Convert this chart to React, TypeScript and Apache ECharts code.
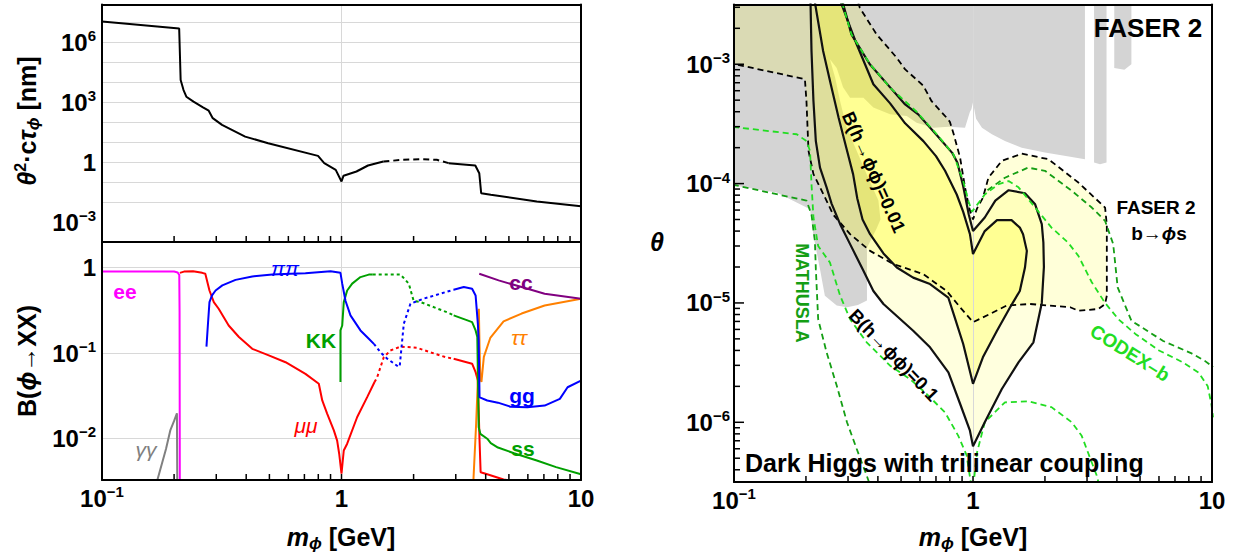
import React, { useEffect, useRef } from "react";
import * as echarts from "echarts";

type P = [number, number];

// ================= Panel A: lifetime θ²·cτ [nm] =================
const lifetimeSolidLow: P[] = [
  [0.1, 1.1e7], [0.21, 5.0e6], [0.213, 1.3e4], [0.219, 4.1e3], [0.225, 1.9e3],
  [0.241, 1.07e3], [0.264, 5.6e2], [0.279, 3.8e2], [0.29, 1.6e2], [0.317, 74],
  [0.396, 19], [0.494, 8.9], [0.798, 2.07], [0.847, 0.9], [0.946, 0.41],
  [1.0, 0.108], [1.02, 0.21], [1.155, 0.34], [1.29, 0.68], [1.495, 1.08],
];
const lifetimeDashed: P[] = [[1.495, 1.08], [1.8, 1.31], [2.16, 1.41], [2.5, 1.31], [2.8, 0.89]];
const lifetimeSolidHigh: P[] = [
  [2.8, 0.89], [3.62, 0.68], [3.76, 0.28], [3.83, 0.028], [4.2, 0.023], [6.54, 0.0108], [10, 0.0061],
];

// ================= Panel B: branching ratios =================
const brEE: P[] = [[0.1, 0.905], [0.2, 0.9], [0.207, 0.88], [0.2102, 0.82], [0.2108, 0.3], [0.2113, 0.003]];
const brGammaGamma: P[] = [[0.1695, 0.0031], [0.185, 0.0075], [0.193, 0.0125], [0.2, 0.016], [0.2055, 0.0197], [0.2062, 0.003]];
const brMuMuSolidA: P[] = [
  [0.2114, 0.87], [0.22, 0.9], [0.24, 0.91], [0.262, 0.87], [0.27, 0.85], [0.281, 0.54], [0.293, 0.395],
  [0.307, 0.33], [0.338, 0.21], [0.373, 0.154], [0.424, 0.112], [0.497, 0.094], [0.584, 0.078],
  [0.707, 0.057], [0.804, 0.0436], [0.831, 0.0278], [0.871, 0.0195], [0.929, 0.0124], [0.959, 0.0094],
  [0.978, 0.0066], [1.0, 0.00385], [1.022, 0.0072], [1.056, 0.00865], [1.163, 0.0178], [1.28, 0.0304],
  [1.374, 0.0457],
];
const brMuMuDotted: P[] = [
  [1.374, 0.0457], [1.409, 0.052], [1.502, 0.0895], [1.6, 0.107], [1.763, 0.119], [2.07, 0.115],
  [2.35, 0.102], [2.72, 0.0895], [2.94, 0.0857],
];
const brMuMuSolidB: P[] = [
  [2.94, 0.0857], [3.51, 0.075], [3.63, 0.0597], [3.71, 0.0478], [3.77, 0.0095], [3.81, 0.004],
  [4.06, 0.0038], [4.75, 0.0033], [5.5, 0.0031],
];
const brPiPiSolid: P[] = [
  [0.273, 0.119], [0.277, 0.22], [0.281, 0.395], [0.288, 0.473], [0.298, 0.54], [0.318, 0.62],
  [0.361, 0.72], [0.424, 0.79], [0.514, 0.83], [0.612, 0.85], [0.707, 0.86], [0.9, 0.91], [0.99, 0.87],
  [1.007, 0.65], [1.039, 0.41], [1.09, 0.276], [1.2, 0.184], [1.3, 0.147], [1.365, 0.128],
];
const brPiPiDotted: P[] = [
  [1.365, 0.128], [1.455, 0.102], [1.55, 0.086], [1.72, 0.0697], [1.75, 0.0697], [1.82, 0.22],
  [1.94, 0.378], [2.2, 0.433], [2.59, 0.496], [2.94, 0.552],
];
const brGluonSolid: P[] = [
  [2.94, 0.552], [3.24, 0.593], [3.51, 0.567], [3.63, 0.473], [3.71, 0.22], [3.74, 0.14], [3.77, 0.0304],
  [3.8, 0.03], [4.06, 0.0278], [4.5, 0.0262], [5.07, 0.0235], [5.97, 0.0231], [7.05, 0.0242],
  [8.16, 0.029], [8.79, 0.0397], [10, 0.0475],
];
const brKKSolid: P[] = [
  [0.99, 0.0456], [0.99, 0.184], [1.007, 0.21], [1.022, 0.395], [1.056, 0.54], [1.108, 0.65],
  [1.2, 0.776], [1.3, 0.83], [1.35, 0.83],
];
const brKKDotted: P[] = [[1.35, 0.83], [1.763, 0.83], [1.91, 0.65], [2.0, 0.41], [2.14, 0.395], [2.76, 0.3], [2.94, 0.276]];
const brStrangeSolid: P[] = [
  [2.94, 0.276], [3.29, 0.246], [3.51, 0.23], [3.63, 0.184], [3.69, 0.154], [3.74, 0.0135], [3.8, 0.0113],
  [4.06, 0.0099], [4.2, 0.0088], [4.5, 0.0078], [5.25, 0.0067], [6.54, 0.0055], [7.87, 0.0046], [10, 0.0038],
];
const brCharm: P[] = [[3.76, 0.85], [4.53, 0.71], [5.65, 0.593], [7.05, 0.496], [10, 0.433]];
const brTauTau: P[] = [
  [3.55, 0.003], [3.65, 0.015], [3.7, 0.04], [3.73, 0.15], [3.745, 0.33], [3.77, 0.12], [3.8, 0.05],
  [3.84, 0.046], [3.93, 0.09], [4.18, 0.15], [4.75, 0.235], [5.65, 0.29], [7.05, 0.36], [10, 0.433],
];

// ================= Panel C: theta vs mass (FASER 2 reach) =================
const grayMain: P[] = [
  [0.09, 3.3e-3], [2.94, 3.3e-3], [2.94, 1.6e-4], [2.59, 1.67e-4], [2.0, 1.82e-4], [1.6, 2.0e-4],
  [1.36, 2.27e-4], [1.2, 2.59e-4], [1.09, 2.94e-4], [1.03, 3.5e-4], [1.01, 4.3e-4], [1.0, 4.8e-4],
  [0.985, 4.2e-4], [0.971, 4.0e-4], [0.926, 2.94e-4], [0.79, 3.0e-4], [0.683, 2.94e-4], [0.581, 3.24e-4],
  [0.528, 3.69e-4], [0.45, 3.81e-4], [0.383, 4.33e-4], [0.348, 5.25e-4], [0.306, 5.25e-4], [0.286, 6.4e-4],
  [0.269, 9.3e-4], [0.252, 1.1e-3], [0.265, 7.7e-4], [0.278, 4.9e-4], [0.296, 2.94e-4], [0.326, 1.88e-4],
  [0.359, 1.2e-4], [0.402, 7.2e-5], [0.41, 5.0e-5], [0.395, 4.2e-5], [0.36, 2.9e-5], [0.36, 1.05e-5],
  [0.33, 9.6e-6], [0.297, 9.2e-6], [0.269, 9.5e-6], [0.24, 1.15e-5], [0.229, 1.92e-5], [0.215, 3.65e-5],
  [0.208, 6.1e-5], [0.151, 8.4e-5], [0.09, 1.0e-4],
];
const grayBarA: P[] = [[3.21, 3.3e-3], [3.62, 3.3e-3], [3.62, 1.5e-4], [3.4, 1.45e-4], [3.21, 1.5e-4]];
const grayBarB: P[] = [[3.9, 3.3e-3], [4.6, 3.3e-3], [4.6, 1.0e-3], [4.3, 9.0e-4], [3.9, 9.3e-4]];

const faserBsContour: P[] = [
  [0.331, 3.3e-3], [0.336, 2.97e-3], [0.395, 1.78e-3], [0.48, 1.13e-3], [0.519, 9.1e-4], [0.62, 6.6e-4],
  [0.671, 4.9e-4], [0.776, 3.56e-4], [0.8, 3.3e-4], [0.83, 2.6e-4], [0.883, 1.65e-4], [0.926, 9.3e-5],
  [0.965, 6.2e-5], [1.0, 5.0e-5], [1.04, 6.2e-5], [1.1, 7.6e-5], [1.16, 1.12e-4], [1.32, 1.55e-4],
  [1.6, 1.78e-4], [2.07, 1.6e-4], [2.76, 1.02e-4], [3.57, 6.3e-5], [3.63, 4.5e-5], [3.63, 1.15e-5],
  [3.57, 9.8e-6], [3.35, 8.9e-6], [2.76, 8.6e-6], [2.55, 9.2e-6], [1.73, 9.8e-6], [1.38, 9.5e-6],
  [1.18, 8.1e-6], [1.0, 6.9e-6], [0.883, 9.2e-6], [0.776, 1.26e-5], [0.62, 1.74e-5], [0.464, 2.12e-5],
  [0.371, 2.73e-5], [0.306, 3.77e-5], [0.26, 5.5e-5], [0.237, 8.1e-5], [0.215, 1.2e-4], [0.205, 1.88e-4],
  [0.201, 4.9e-4], [0.198, 7.5e-4], [0.09, 1.05e-3],
];
const faserBsCorner: P[] = [[0.09, 3.3e-3]];

const contourB01: P[] = [
  [0.209, 3.3e-3], [0.211, 1.29e-3], [0.215, 4.92e-4], [0.22, 2.27e-4], [0.229, 1.36e-4], [0.244, 9.3e-5],
  [0.256, 6.8e-5], [0.278, 4.57e-5], [0.306, 3.11e-5], [0.348, 1.86e-5], [0.383, 1.26e-5], [0.422, 9.8e-6],
  [0.562, 5.85e-6], [0.661, 4.25e-6], [0.789, 2.62e-6], [0.883, 1.43e-6], [0.971, 8.5e-7], [1.0, 6.3e-7],
  [1.12, 1.0e-6], [1.32, 1.9e-6], [1.55, 3.18e-6], [1.79, 4.68e-6], [1.94, 1.0e-5], [1.98, 2.0e-5],
  [1.97, 3.2e-5], [1.94, 4.57e-5], [1.82, 6.7e-5], [1.65, 8.3e-5], [1.41, 8.8e-5], [1.24, 7.2e-5],
  [1.12, 5.2e-5], [1.0, 4.0e-5], [0.96, 5.5e-5], [0.91, 9.5e-5], [0.86, 1.5e-4], [0.82, 1.8e-4],
  [0.7, 2.59e-4], [0.59, 3.8e-4], [0.52, 4.6e-4], [0.45, 6.4e-4], [0.37, 1.0e-3], [0.31, 1.78e-3],
  [0.285, 3.3e-3],
];
const contourB001: P[] = [
  [0.218, 3.3e-3], [0.236, 1.29e-3], [0.254, 6.8e-4], [0.274, 3.56e-4], [0.295, 2.0e-4], [0.315, 1.2e-4],
  [0.328, 7.5e-5], [0.345, 5.0e-5], [0.371, 3.77e-5], [0.422, 2.6e-5], [0.48, 1.98e-5], [0.562, 1.63e-5],
  [0.661, 1.44e-5], [0.788, 1.11e-5], [0.83, 8.07e-6], [0.91, 4.53e-6], [1.0, 2.1e-6], [1.1, 3.5e-6],
  [1.26, 5.85e-6], [1.43, 9.2e-6], [1.57, 1.26e-5], [1.65, 1.98e-5], [1.68, 2.73e-5], [1.62, 3.77e-5],
  [1.57, 4.28e-5], [1.45, 4.94e-5], [1.26, 4.94e-5], [1.12, 4.0e-5], [1.0, 2.57e-5], [0.971, 3.77e-5],
  [0.91, 5.8e-5], [0.855, 8.1e-5], [0.764, 1.28e-4], [0.7, 1.7e-4], [0.62, 2.27e-4], [0.52, 3.2e-4],
  [0.45, 4.7e-4], [0.383, 6.8e-4], [0.326, 1.47e-3], [0.28, 3.3e-3],
];

const greenBrightBand: P[] = [
  [0.283, 3.3e-3], [0.31, 1.78e-3], [0.371, 1.0e-3], [0.45, 6.36e-4], [0.581, 4.0e-4], [0.705, 2.59e-4],
  [0.828, 1.76e-4], [0.91, 1.05e-4], [0.96, 7.0e-5], [0.99, 5.8e-5], [1.12, 8.1e-5], [1.28, 9.9e-5],
  [1.41, 1.05e-4], [1.55, 9.3e-5], [1.82, 6.3e-5], [2.13, 4.28e-5], [2.5, 3.2e-5], [2.76, 2.48e-5],
  [3.14, 1.49e-5], [3.57, 1.0e-5], [4.06, 7.3e-6], [4.78, 5.5e-6], [6.0, 4.0e-6], [7.5, 3.2e-6],
  [8.8, 2.6e-6], [9.6, 2.0e-6], [9.95, 1.4e-6], [10.1, 1.1e-6],
];
const greenBrightLow: P[] = [
  [0.09, 3.05e-4], [0.183, 2.59e-4], [0.201, 2.27e-4], [0.208, 1.88e-4], [0.211, 9.9e-5], [0.215, 5.2e-5],
  [0.225, 3.0e-5], [0.252, 2.18e-5], [0.278, 1.15e-5], [0.306, 7.3e-6], [0.359, 4.68e-6], [0.45, 2.98e-6],
  [0.545, 2.3e-6], [0.63, 1.78e-6], [0.764, 1.21e-6], [0.868, 7.7e-7], [0.94, 5.3e-7], [0.985, 2.9e-7],
  [1.0, 2.8e-7], [1.04, 5.6e-7], [1.12, 1.0e-6], [1.36, 1.47e-6], [1.7, 1.5e-6], [2.13, 1.34e-6],
  [2.59, 1.0e-6], [2.85, 7.7e-7], [3.14, 4.6e-7], [3.29, 3.6e-7], [3.4, 2.8e-7],
];
const greenDarkLeft: P[] = [
  [0.09, 1.02e-4], [0.201, 7.2e-5], [0.211, 5.5e-5], [0.218, 3.3e-5], [0.22, 1.92e-5], [0.225, 7.3e-6],
  [0.244, 3.86e-6], [0.269, 2.03e-6], [0.297, 1.0e-6], [0.326, 6.0e-7], [0.359, 3.58e-7], [0.375, 2.8e-7],
];
const greenDarkRight: P[] = [
  [1.15, 8.8e-5], [1.36, 1.12e-4], [1.7, 1.36e-4], [2.0, 1.28e-4], [2.59, 8.7e-5], [3.14, 6.3e-5],
  [3.57, 4.87e-5], [3.86, 3.11e-5], [4.03, 1.35e-5], [4.6, 7.1e-6], [6.25, 4.8e-6], [8.17, 3.8e-6],
  [9.33, 3.27e-6], [10.1, 2.9e-6],
];

// ================= Axis ticks / labels =================
const massTicks = [0.2, 0.3, 0.4, 0.5, 0.6, 0.7, 0.8, 0.9, 1, 2, 3, 4, 5, 6, 7, 8, 9];
const massLabelValues = [0.1, 1, 10];
const lifetimeLabelValues = [0.001, 1, 1000, 1000000];
const lifetimeGridValues = [0.001, 0.01, 0.1, 1, 10, 100, 1000, 10000, 100000, 1000000, 10000000];
const branchingLabelValues = [0.01, 0.1, 1];
const branchingGridValues = [0.01, 0.1, 1];
const thetaLabelValues = [1e-6, 1e-5, 1e-4, 1e-3];
const thetaMinorTicks = [
  4e-7, 5e-7, 6e-7, 7e-7, 8e-7, 9e-7,
  2e-6, 3e-6, 4e-6, 5e-6, 6e-6, 7e-6, 8e-6, 9e-6,
  2e-5, 3e-5, 4e-5, 5e-5, 6e-5, 7e-5, 8e-5, 9e-5,
  2e-4, 3e-4, 4e-4, 5e-4, 6e-4, 7e-4, 8e-4, 9e-4,
  2e-3, 3e-3,
];
const verticalGridValues = [1];

// axis ranges
const MASS_MIN = 0.1, MASS_MAX = 10;
const LIFE_MIN = 1e-4, LIFE_MAX = 7.9e7;
const BR_MIN = 3.25e-3, BR_MAX = 2.0;
const TH_MIN = 3.16e-7, TH_MAX = 3.16e-3;

// grid geometry (layout)
const GRID_A = { left: 102, top: 4.5, width: 479, height: 237.5 };
const GRID_B = { left: 102, top: 242, width: 479, height: 238 };
const GRID_C = { left: 734, top: 4.6, width: 478, height: 477.4 };

// ================= Styling helpers =================
const FONT = "'Liberation Sans', Arial, Helvetica, sans-serif";
const C_GREEN = "#00A000";
const C_BRIGHT = "#22DD22";
const C_DARKG = "#149E14";

function powLabel(v: number): string {
  const e = Math.round(Math.log10(v));
  if (e === 0) return "{b|1}";
  if (e === 1) return "{b|10}";
  return "{b|10}{s|" + (e < 0 ? "\u2212" + -e : String(e)) + "}";
}
const labelRich = {
  b: { fontSize: 24, fontWeight: "bold", fontFamily: FONT, color: "#000", lineHeight: 28 },
  s: { fontSize: 15, fontWeight: "bold", fontFamily: FONT, color: "#000", lineHeight: 15, verticalAlign: "top" },
};
const frameLine = { show: true, onZero: false, lineStyle: { color: "#000", width: 2 } };

function xAx(grid: number, pos: string, labels?: number[]): any {
  return {
    type: "log", gridIndex: grid, position: pos, min: MASS_MIN, max: MASS_MAX, z: 10,
    axisLine: frameLine,
    axisTick: { show: false },
    axisLabel: labels
      ? { show: true, customValues: labels, formatter: powLabel, rich: labelRich, margin: 4 }
      : { show: false },
    splitLine: { show: false },
  };
}
function yAx(grid: number, pos: string, min: number, max: number, labels?: number[], margin = 6): any {
  return {
    type: "log", gridIndex: grid, position: pos, min, max, z: 10,
    axisLine: frameLine,
    axisTick: { show: false },
    axisLabel: labels
      ? { show: true, customValues: labels, formatter: powLabel, rich: labelRich, margin }
      : { show: false },
    splitLine: { show: false },
  };
}

function lineS(data: any[], xi: number, yi: number, color: string, width = 2, type: any = "solid", z = 5): any {
  return {
    type: "line", xAxisIndex: xi, yAxisIndex: yi, data, showSymbol: false, symbol: "none",
    clip: true, z, silent: true, lineStyle: { color, width, type }, emphasis: { disabled: true },
  };
}
function polyS(points: P[], xi: number, yi: number, fill: string, z: number): any {
  return {
    type: "custom", xAxisIndex: xi, yAxisIndex: yi, data: points, clip: true, z, silent: true,
    renderItem: (params: any, api: any) => {
      if (params.dataIndex !== 0) return null;
      return { type: "polygon", shape: { points: points.map((p) => api.coord(p)) }, style: { fill } };
    },
  };
}
function gridS(xi: number, yi: number, yVals: number[], xVals: number[]): any {
  return {
    type: "line", xAxisIndex: xi, yAxisIndex: yi, data: [], z: 1, silent: true,
    markLine: {
      silent: true, symbol: ["none", "none"], label: { show: false },
      lineStyle: { color: "#D8D8D8", width: 1, type: "solid" },
      data: [...yVals.map((v) => ({ yAxis: v })), ...xVals.map((v) => ({ xAxis: v }))],
    },
  };
}

function tstyle(size: number, fill = "#000", weight = "bold", style = "normal"): any {
  return { fontSize: size, fontWeight: weight, fontStyle: style, fontFamily: FONT, fill };
}
function txt(x: number, y: number, text: string, style: any, rotationDeg = 0, rich?: any, align = "center"): any {
  return {
    type: "text", x, y, rotation: (rotationDeg * Math.PI) / 180, z: 100, silent: true,
    style: { text, align, verticalAlign: "middle", ...style, ...(rich ? { rich } : {}) },
  };
}
const titleRich = {
  n: { ...tstyle(25), lineHeight: 30 },
  i: { ...tstyle(25, "#000", "bold", "italic"), lineHeight: 30 },
  p: { ...tstyle(16), lineHeight: 16, verticalAlign: "top" },
  b: { ...tstyle(17, "#000", "bold", "italic"), lineHeight: 17, verticalAlign: "bottom" },
};

// Axis decoration: inside tick marks on the log frames (pixel position along the frame from the grid layout)
function logPos(v: number, min: number, max: number, start: number, span: number): number {
  return start + ((Math.log10(v) - Math.log10(min)) / (Math.log10(max) - Math.log10(min))) * span;
}
function tickElements(): any[] {
  const out: any[] = [];
  const mk = (x1: number, y1: number, x2: number, y2: number) => ({
    type: "line", z: 95, silent: true,
    shape: { x1, y1, x2, y2 },
    style: { stroke: "#000", lineWidth: 1.5 },
  });
  const bottomTicks = (g: any, len: number) => {
    const yb = g.top + g.height;
    for (const v of massTicks) {
      const x = logPos(v, MASS_MIN, MASS_MAX, g.left, g.width);
      out.push(mk(x, yb, x, yb - len));
    }
  };
  bottomTicks(GRID_A, 6);
  bottomTicks(GRID_B, 6);
  bottomTicks(GRID_C, 6);
  const yb = GRID_C.top + GRID_C.height;
  const leftTicks = (vals: number[], len: number) => {
    for (const v of vals) {
      const y = yb - logPos(v, TH_MIN, TH_MAX, 0, GRID_C.height);
      out.push(mk(GRID_C.left, y, GRID_C.left + len, y));
    }
  };
  leftTicks(thetaLabelValues, 10);
  leftTicks(thetaMinorTicks, 6);
  return out;
}

function textElements(): any[] {
  return [
    txt(27, 121, "{i|θ}{p|2}{n|·c}{i|τ}{b|ϕ}{n| [nm]}", tstyle(25), 90, titleRich),
    txt(27, 361, "{n|B(}{i|ϕ}{n|→XX)}", tstyle(25), 90, titleRich),
    txt(341, 537, "{i|m}{b|ϕ}{n| [GeV]}", tstyle(25), 0, titleRich),
    txt(973, 537, "{i|m}{b|ϕ}{n| [GeV]}", tstyle(25), 0, titleRich),
    txt(657, 242, "θ", tstyle(25, "#000", "bold", "italic")),
    txt(125, 291, "ee", tstyle(21, "#FF00FF")),
    txt(285, 268, "ππ", tstyle(21, "#0000FF", "normal", "italic")),
    txt(321, 340, "KK", tstyle(21, C_GREEN)),
    txt(306, 425, "μμ", tstyle(21, "#FF0000", "normal", "italic")),
    txt(146, 449, "γγ", tstyle(21, "#808080", "normal", "italic")),
    txt(521, 282, "cc", tstyle(21, "#800080")),
    txt(519, 337, "ττ", tstyle(21, "#FF8000", "normal", "italic")),
    txt(522, 395, "gg", tstyle(21, "#0000FF")),
    txt(523, 448, "ss", tstyle(21, C_GREEN)),
    txt(1148, 28, "FASER 2", tstyle(26)),
    txt(1156, 207, "FASER 2", tstyle(19)),
    txt(1159, 233, "{n|b→}{i|ϕ}{n|s}", tstyle(19), 0, {
      n: tstyle(19), i: tstyle(19, "#000", "bold", "italic"),
    }),
    txt(802, 293, "MATHUSLA", tstyle(18, C_DARKG), -90),
    txt(1130, 353, "CODEX–b", tstyle(19, C_BRIGHT), -32),
    txt(874, 172, "B(h→ϕϕ)=0.01", tstyle(18.5), -66),
    txt(894, 355, "B(h→ϕϕ)=0.1", tstyle(18.5), -46),
    txt(745, 463, "Dark Higgs with trilinear coupling", tstyle(25), 0, undefined, "left"),
  ];
}

function buildOption(): any {
  const yellow = (a: number) => `rgba(255,255,0,${a})`;
  const dashedRegion = [...faserBsCorner, ...faserBsContour];
  return {
    animation: false,
    textStyle: { fontFamily: FONT },
    grid: [GRID_A, GRID_B, GRID_C],
    xAxis: [
      xAx(0, "bottom"),
      xAx(0, "top"),
      xAx(1, "bottom", massLabelValues),
      xAx(1, "top"),
      xAx(2, "bottom", massLabelValues),
      xAx(2, "top"),
    ],
    yAxis: [
      yAx(0, "left", LIFE_MIN, LIFE_MAX, lifetimeLabelValues, 6),
      yAx(0, "right", LIFE_MIN, LIFE_MAX),
      yAx(1, "left", BR_MIN, BR_MAX, branchingLabelValues, 6),
      yAx(1, "right", BR_MIN, BR_MAX),
      yAx(2, "left", TH_MIN, TH_MAX, thetaLabelValues, 4),
      yAx(2, "right", TH_MIN, TH_MAX),
    ],
    series: [
      gridS(0, 0, lifetimeGridValues, verticalGridValues),
      lineS(lifetimeSolidLow, 0, 0, "#000", 2),
      lineS(lifetimeDashed, 0, 0, "#000", 2, [6, 4]),
      lineS(lifetimeSolidHigh, 0, 0, "#000", 2),
      gridS(2, 2, branchingGridValues, verticalGridValues),
      lineS(brGammaGamma, 2, 2, "#808080", 2),
      lineS(brEE, 2, 2, "#FF00FF", 2),
      lineS(brMuMuSolidA, 2, 2, "#FF0000", 2),
      lineS(brMuMuDotted, 2, 2, "#FF0000", 2, [3, 3]),
      lineS(brMuMuSolidB, 2, 2, "#FF0000", 2),
      lineS(brTauTau, 2, 2, "#FF8000", 2),
      lineS(brKKSolid, 2, 2, C_GREEN, 2),
      lineS(brKKDotted, 2, 2, C_GREEN, 2, [3, 3]),
      lineS(brStrangeSolid, 2, 2, C_GREEN, 2),
      lineS(brPiPiSolid, 2, 2, "#0000FF", 2),
      lineS(brPiPiDotted, 2, 2, "#0000FF", 2, [3, 3]),
      lineS(brGluonSolid, 2, 2, "#0000FF", 2),
      lineS(brCharm, 2, 2, "#800080", 2),
      gridS(4, 4, thetaLabelValues, verticalGridValues),
      polyS(grayMain, 4, 4, "#D4D4D4", 2),
      polyS(grayBarA, 4, 4, "#D4D4D4", 2),
      polyS(grayBarB, 4, 4, "#D4D4D4", 2),
      polyS(dashedRegion, 4, 4, yellow(0.15), 3),
      polyS(contourB01, 4, 4, yellow(0.13), 3),
      polyS(contourB001, 4, 4, yellow(0.22), 3),
      lineS(faserBsContour, 4, 4, "#000", 1.8, [6, 4], 6),
      lineS(greenDarkLeft, 4, 4, C_DARKG, 1.8, [6, 4], 6),
      lineS(greenDarkRight, 4, 4, C_DARKG, 1.8, [6, 4], 6),
      lineS(greenBrightLow, 4, 4, C_BRIGHT, 1.8, [6, 4], 6),
      lineS(contourB01, 4, 4, "#111", 2.2, "solid", 7),
      lineS(contourB001, 4, 4, "#111", 2.2, "solid", 7),
      lineS(greenBrightBand, 4, 4, C_BRIGHT, 1.8, [6, 4], 8),
    ],
    graphic: [...textElements(), ...tickElements()],
  };
}

export default function App() {
  const ref = useRef<HTMLDivElement>(null);
  useEffect(() => {
    document.body.style.margin = "0";
    const chart = echarts.init(ref.current!, null, { renderer: "svg" });
    chart.setOption(buildOption());
    return () => chart.dispose();
  }, []);
  return (
    <div
      ref={ref}
      style={{ position: "absolute", left: 0, top: 0, width: 1242, height: 558, background: "#fff" }}
    />
  );
}
